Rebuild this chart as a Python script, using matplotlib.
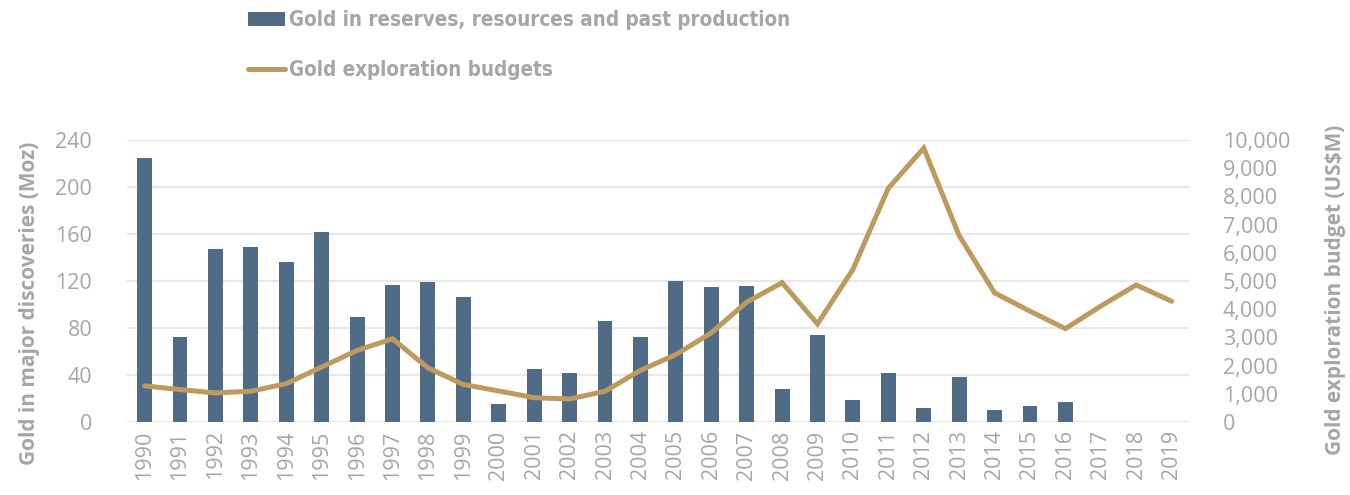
import numpy as np
import matplotlib
matplotlib.use("Agg")
from matplotlib import pyplot as plt
from matplotlib.ticker import FuncFormatter, MultipleLocator

years = [str(y) for y in range(1990, 2020)]

# Moz of gold in major discoveries, 1990-2016
discoveries = [225, 72, 147, 149, 136, 162, 89, 117, 119, 106,
               15, 45, 42, 86, 72, 120, 115, 116, 28, 74,
               19, 42, 12, 38, 10, 14, 17]

# Gold exploration budgets (US$M), 1990-2019
budgets = [1280, 1150, 1030, 1090, 1360, 1950, 2540, 2950, 1920, 1330,
           1100, 860, 815, 1090, 1830, 2390, 3160, 4250, 4940, 3480,
           5410, 8290, 9710, 6610, 4580, 3930, 3310, 4110, 4860, 4280]

BAR = "#506B86"
LINE = "#BF9A5E"
GREY = "#A6A6A6"
GRID = "#E8E8E8"

tick_font = {"family": ["Open Sans", "DejaVu Sans"], "size": 15.5}
label_font = {"family": ["Open Sans", "DejaVu Sans"], "size": 15, "weight": "bold"}

fig = plt.figure(figsize=(13.5, 4.95), dpi=100)
ax = fig.add_axes([0.094, 0.1475, 0.787, 0.5697])
ax2 = ax.twinx()

x = np.arange(len(years))
bars = ax.bar(x[:len(discoveries)], discoveries, width=0.42, color=BAR,
              label="Gold in reserves, resources and past production", zorder=2)
line, = ax2.plot(x, budgets, color=LINE, lw=3.6, solid_joinstyle="miter",
                 solid_capstyle="round", label="Gold exploration budgets")

ax.set_xlim(-0.5, len(years) - 0.5)
ax.set_ylim(0, 240)
ax.yaxis.set_major_locator(MultipleLocator(40))
ax2.set_ylim(0, 10000)
ax2.yaxis.set_major_locator(MultipleLocator(1000))
ax2.yaxis.set_major_formatter(FuncFormatter(lambda v, p: f"{int(v):,}"))

ax.set_xticks(x)
ax.set_xticklabels(years, rotation=90, color=GREY, **tick_font)
for lab in ax.get_yticklabels():
    lab.set(color=GREY, **tick_font)
for lab in ax2.get_yticklabels():
    lab.set(color=GREY, **tick_font)

ax.grid(axis="y", color=GRID, lw=1.6, zorder=0)
ax.set_axisbelow(True)
for a in (ax, ax2):
    for s in a.spines.values():
        s.set_visible(False)
    a.tick_params(length=0)
ax.tick_params(axis="y", pad=25)
ax.tick_params(axis="x", pad=6)
ax2.tick_params(axis="y", pad=24)

ax.set_ylabel("Gold in major discoveries (Moz)", color=GREY, **label_font)
ax.yaxis.set_label_coords(-0.082, 0.42)
ax2.set_ylabel("Gold exploration budget (US$M)", color=GREY, **label_font)
ax2.yaxis.set_label_coords(1.128, 0.47)

fig.legend(handles=[bars, line], loc="upper left", bbox_to_anchor=(0.1837, 0.98),
           frameon=False, borderpad=0, borderaxespad=0, handlelength=1.8,
           handletextpad=0.2, labelspacing=1.45, labelcolor=GREY,
           prop={"family": "DejaVu Sans", "stretch": "condensed",
                 "size": 14.8, "weight": "bold"})

fig.savefig("out.png", dpi=100)
